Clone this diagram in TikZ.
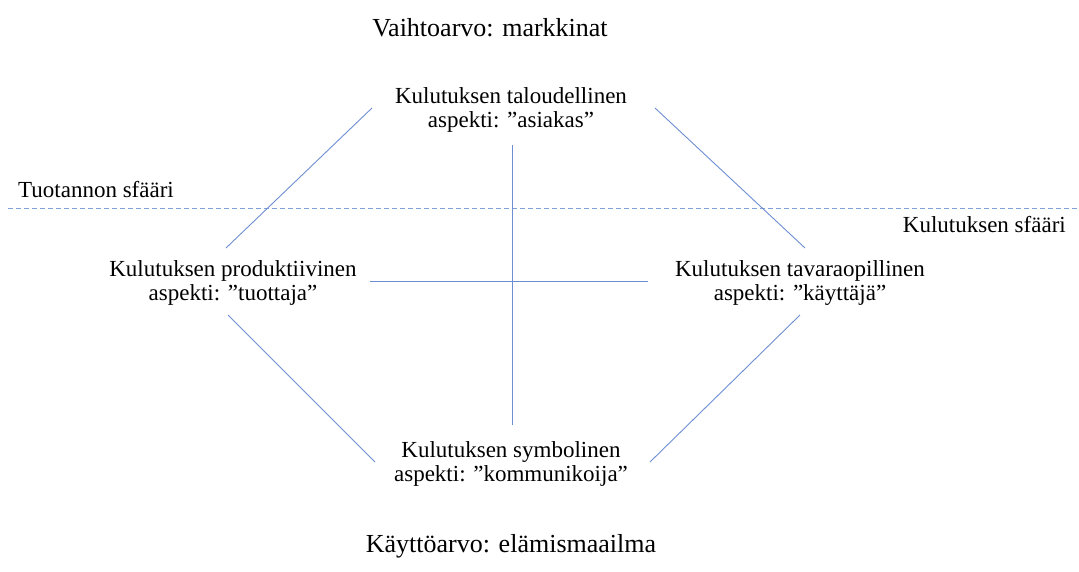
\documentclass[tikz,border=0pt]{standalone}
\usepackage{fontspec}
\setmainfont{Liberation Serif}
\definecolor{linec}{HTML}{6E8ED3}
\definecolor{dashc}{HTML}{7F9FDB}
\begin{document}
\begin{tikzpicture}[x=1pt,y=-1pt,
  lbl/.style={font=\fontsize{23}{23.4}\selectfont, align=center, inner sep=0pt},
  title/.style={font=\fontsize{26}{28}\selectfont, inner sep=0pt},
  conn/.style={draw=linec, line width=0.9pt}]
\useasboundingbox (0,0) rectangle (1079,571);
\node[title] (vaihto) at (490,28) {Vaihtoarvo: markkinat};
\node[lbl] (top) at (511,110) {Kulutuksen taloudellinen\\aspekti: ”asiakas”};
\node[lbl, anchor=west] (tuot) at (18,190) {Tuotannon sfääri};
\node[lbl, anchor=east] (kulsf) at (1066,225) {Kulutuksen sfääri};
\node[lbl] (left) at (233,283) {Kulutuksen produktiivinen\\aspekti: ”tuottaja”};
\node[lbl] (right) at (800,283) {Kulutuksen tavaraopillinen\\aspekti: ”käyttäjä”};
\node[lbl] (bottom) at (511,464) {Kulutuksen symbolinen\\aspekti: ”kommunikoija”};
\node[title] (kaytto) at (511,546) {Käyttöarvo: elämismaailma};
\coordinate (d1) at (8,208);
\coordinate (d2) at (1079,208);
\coordinate (tl1) at (372,108);
\coordinate (tl2) at (226,248);
\coordinate (tr1) at (655,108);
\coordinate (tr2) at (805,248);
\coordinate (v1) at (512,145);
\coordinate (v2) at (512,425);
\coordinate (h1) at (370,281);
\coordinate (h2) at (648,281);
\coordinate (bl1) at (228,315);
\coordinate (bl2) at (375,462);
\coordinate (br1) at (800,315);
\coordinate (br2) at (650,462);
\draw[draw=dashc, line width=1pt, dash pattern=on 5pt off 3pt] (d1) -- (d2);
\draw[conn] (tl1) -- (tl2);
\draw[conn] (tr1) -- (tr2);
\draw[conn] (v1) -- (v2);
\draw[conn] (h1) -- (h2);
\draw[conn] (bl1) -- (bl2);
\draw[conn] (br1) -- (br2);
\end{tikzpicture}
\end{document}
